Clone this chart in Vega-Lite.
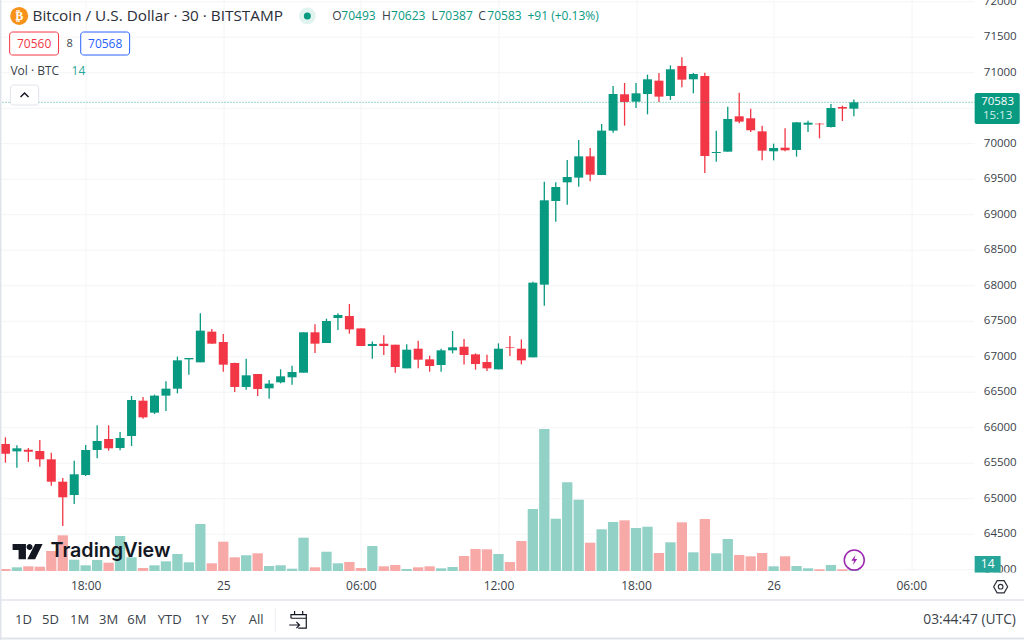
{
  "$schema": "https://vega.github.io/schema/vega-lite/v6.json",
  "width": 984,
  "height": 571,
  "autosize": {"type": "none"},
  "padding": {"left": -5.5, "top": 0, "right": 45.5, "bottom": 69},
  "background": "#ffffff",
  "config": {
    "view": {"stroke": null},
    "font": "Open Sans",
    "axis": {"labelOverlap": false, "labelBound": false},
    "text": {"font": "Open Sans", "fontSize": 12, "align": "left", "baseline": "middle", "color": "#3a3f4a"}
  },
  "datasets": {
    "one": [{"k": 1}],
    "levels": [
      {"level":64000},{"level":64500},{"level":65000},{"level":65500},{"level":66000},{"level":66500},
      {"level":67000},{"level":67500},{"level":68000},{"level":68500},{"level":69000},{"level":69500},
      {"level":70000},{"level":70500},{"level":71000},{"level":71500},{"level":72000}
    ],
    "candles": [
      {"t":"2024-03-24T14:30:00Z","open":65771,"high":65865,"low":65508,"close":65635,"vol":20},
      {"t":"2024-03-24T15:00:00Z","open":65667,"high":65752,"low":65437,"close":65710,"vol":37},
      {"t":"2024-03-24T15:30:00Z","open":65691,"high":65714,"low":65517,"close":65663,"vol":47},
      {"t":"2024-03-24T16:00:00Z","open":65672,"high":65827,"low":65451,"close":65555,"vol":43},
      {"t":"2024-03-24T16:30:00Z","open":65555,"high":65649,"low":65184,"close":65240,"vol":200},
      {"t":"2024-03-24T17:00:00Z","open":65240,"high":65292,"low":64616,"close":65020,"vol":357},
      {"t":"2024-03-24T17:30:00Z","open":65052,"high":65536,"low":64926,"close":65344,"vol":113},
      {"t":"2024-03-24T18:00:00Z","open":65334,"high":65757,"low":65320,"close":65686,"vol":57},
      {"t":"2024-03-24T18:30:00Z","open":65686,"high":66034,"low":65569,"close":65813,"vol":110},
      {"t":"2024-03-24T19:00:00Z","open":65841,"high":66034,"low":65677,"close":65710,"vol":83},
      {"t":"2024-03-24T19:30:00Z","open":65714,"high":65940,"low":65682,"close":65855,"vol":350},
      {"t":"2024-03-24T20:00:00Z","open":65883,"high":66447,"low":65743,"close":66390,"vol":137},
      {"t":"2024-03-24T20:30:00Z","open":66381,"high":66433,"low":66128,"close":66146,"vol":30},
      {"t":"2024-03-24T21:00:00Z","open":66212,"high":66466,"low":66193,"close":66452,"vol":57},
      {"t":"2024-03-24T21:30:00Z","open":66452,"high":66653,"low":66236,"close":66550,"vol":97},
      {"t":"2024-03-24T22:00:00Z","open":66550,"high":67001,"low":66484,"close":66949,"vol":170},
      {"t":"2024-03-24T22:30:00Z","open":66963,"high":66982,"low":66747,"close":66982,"vol":87},
      {"t":"2024-03-24T23:00:00Z","open":66921,"high":67611,"low":66921,"close":67367,"vol":470},
      {"t":"2024-03-24T23:30:00Z","open":67353,"high":67391,"low":67184,"close":67184,"vol":77},
      {"t":"2024-03-25T00:00:00Z","open":67207,"high":67320,"low":66790,"close":66888,"vol":293},
      {"t":"2024-03-25T00:30:00Z","open":66912,"high":66916,"low":66503,"close":66574,"vol":137},
      {"t":"2024-03-25T01:00:00Z","open":66574,"high":66973,"low":66536,"close":66738,"vol":157},
      {"t":"2024-03-25T01:30:00Z","open":66757,"high":66757,"low":66447,"close":66545,"vol":177},
      {"t":"2024-03-25T02:00:00Z","open":66555,"high":66672,"low":66409,"close":66621,"vol":50},
      {"t":"2024-03-25T02:30:00Z","open":66639,"high":66822,"low":66625,"close":66724,"vol":57},
      {"t":"2024-03-25T03:00:00Z","open":66710,"high":66874,"low":66606,"close":66785,"vol":23},
      {"t":"2024-03-25T03:30:00Z","open":66775,"high":67344,"low":66775,"close":67344,"vol":333},
      {"t":"2024-03-25T04:00:00Z","open":67344,"high":67456,"low":67053,"close":67184,"vol":37},
      {"t":"2024-03-25T04:30:00Z","open":67193,"high":67536,"low":67193,"close":67503,"vol":193},
      {"t":"2024-03-25T05:00:00Z","open":67545,"high":67611,"low":67376,"close":67588,"vol":77},
      {"t":"2024-03-25T05:30:00Z","open":67573,"high":67742,"low":67324,"close":67385,"vol":90},
      {"t":"2024-03-25T06:00:00Z","open":67399,"high":67399,"low":67151,"close":67151,"vol":30},
      {"t":"2024-03-25T06:30:00Z","open":67151,"high":67216,"low":66972,"close":67179,"vol":250},
      {"t":"2024-03-25T07:00:00Z","open":67183,"high":67301,"low":67024,"close":67151,"vol":47},
      {"t":"2024-03-25T07:30:00Z","open":67169,"high":67169,"low":66775,"close":66855,"vol":60},
      {"t":"2024-03-25T08:00:00Z","open":66836,"high":67174,"low":66836,"close":67099,"vol":20},
      {"t":"2024-03-25T08:30:00Z","open":67113,"high":67226,"low":66836,"close":66958,"vol":37},
      {"t":"2024-03-25T09:00:00Z","open":66963,"high":67014,"low":66789,"close":66869,"vol":47},
      {"t":"2024-03-25T09:30:00Z","open":66883,"high":67113,"low":66789,"close":67090,"vol":27},
      {"t":"2024-03-25T10:00:00Z","open":67090,"high":67362,"low":67047,"close":67132,"vol":40},
      {"t":"2024-03-25T10:30:00Z","open":67141,"high":67249,"low":66892,"close":67024,"vol":150},
      {"t":"2024-03-25T11:00:00Z","open":67033,"high":67047,"low":66817,"close":66897,"vol":220},
      {"t":"2024-03-25T11:30:00Z","open":66925,"high":67028,"low":66798,"close":66836,"vol":217},
      {"t":"2024-03-25T12:00:00Z","open":66822,"high":67188,"low":66822,"close":67113,"vol":170},
      {"t":"2024-03-25T12:30:00Z","open":67136,"high":67291,"low":67010,"close":67127,"vol":90},
      {"t":"2024-03-25T13:00:00Z","open":67113,"high":67244,"low":66892,"close":66949,"vol":300},
      {"t":"2024-03-25T13:30:00Z","open":66991,"high":68057,"low":66991,"close":68043,"vol":620},
      {"t":"2024-03-25T14:00:00Z","open":68015,"high":69465,"low":67719,"close":69203,"vol":1420},
      {"t":"2024-03-25T14:30:00Z","open":69193,"high":69456,"low":68902,"close":69390,"vol":523},
      {"t":"2024-03-25T15:00:00Z","open":69456,"high":69771,"low":69142,"close":69531,"vol":887},
      {"t":"2024-03-25T15:30:00Z","open":69522,"high":70052,"low":69395,"close":69822,"vol":713},
      {"t":"2024-03-25T16:00:00Z","open":69822,"high":69940,"low":69470,"close":69564,"vol":283},
      {"t":"2024-03-25T16:30:00Z","open":69559,"high":70278,"low":69559,"close":70184,"vol":417},
      {"t":"2024-03-25T17:00:00Z","open":70184,"high":70813,"low":70156,"close":70700,"vol":490},
      {"t":"2024-03-25T17:30:00Z","open":70696,"high":70855,"low":70254,"close":70588,"vol":507},
      {"t":"2024-03-25T18:00:00Z","open":70592,"high":70855,"low":70503,"close":70710,"vol":430},
      {"t":"2024-03-25T18:30:00Z","open":70700,"high":70973,"low":70414,"close":70907,"vol":443},
      {"t":"2024-03-25T19:00:00Z","open":70888,"high":70996,"low":70588,"close":70663,"vol":180},
      {"t":"2024-03-25T19:30:00Z","open":70672,"high":71104,"low":70616,"close":71048,"vol":287},
      {"t":"2024-03-25T20:00:00Z","open":71095,"high":71217,"low":70794,"close":70902,"vol":487},
      {"t":"2024-03-25T20:30:00Z","open":70907,"high":70996,"low":70710,"close":70982,"vol":187},
      {"t":"2024-03-25T21:00:00Z","open":70954,"high":71001,"low":69588,"close":69827,"vol":520},
      {"t":"2024-03-25T21:30:00Z","open":69869,"high":70184,"low":69747,"close":69883,"vol":177},
      {"t":"2024-03-25T22:00:00Z","open":69888,"high":70522,"low":69888,"close":70348,"vol":320},
      {"t":"2024-03-25T22:30:00Z","open":70386,"high":70719,"low":70287,"close":70311,"vol":160},
      {"t":"2024-03-25T23:00:00Z","open":70358,"high":70494,"low":70165,"close":70189,"vol":147},
      {"t":"2024-03-25T23:30:00Z","open":70174,"high":70254,"low":69766,"close":69902,"vol":180},
      {"t":"2024-03-26T00:00:00Z","open":69893,"high":70001,"low":69766,"close":69940,"vol":47},
      {"t":"2024-03-26T00:30:00Z","open":69944,"high":70217,"low":69893,"close":69907,"vol":147},
      {"t":"2024-03-26T01:00:00Z","open":69912,"high":70306,"low":69818,"close":70301,"vol":50},
      {"t":"2024-03-26T01:30:00Z","open":70268,"high":70325,"low":70165,"close":70296,"vol":27},
      {"t":"2024-03-26T02:00:00Z","open":70282,"high":70292,"low":70076,"close":70273,"vol":17},
      {"t":"2024-03-26T02:30:00Z","open":70235,"high":70559,"low":70230,"close":70503,"vol":60},
      {"t":"2024-03-26T03:00:00Z","open":70517,"high":70536,"low":70320,"close":70494,"vol":17},
      {"t":"2024-03-26T03:30:00Z","open":70493,"high":70623,"low":70387,"close":70583,"vol":14}
    ]
  },
  "data": {"name": "candles"},
  "layer": [
    {
      "data": {"name": "levels"},
      "layer": [
        {
          "mark": {"type": "rule", "color": "#f3f4f6", "strokeWidth": 1},
          "encoding": {
            "x": {"datum": {"year":2024,"month":3,"date":24,"hours":14,"minutes":14,"utc":true}, "type": "temporal"},
            "x2": {"datum": {"year":2024,"month":3,"date":26,"hours":8,"minutes":46,"utc":true}},
            "y": {"field": "level", "type": "quantitative", "title": null, "axis": null, "scale": {"domain": [63982, 72024], "nice": false, "zero": false}}
          }
        },
        {
          "mark": {"type": "text", "fontSize": 11.5},
          "encoding": {
            "x": {"datum": {"year":2024,"month":3,"date":26,"hours":9,"minutes":10,"utc":true}, "type": "temporal"},
            "y": {"field": "level", "type": "quantitative", "title": null, "axis": null},
            "text": {"field": "level", "type": "quantitative", "format": "d"}
          }
        }
      ]
    },
    {
      "mark": {"type": "bar", "width": 10.3},
      "encoding": {
        "x": {
          "field": "t",
          "type": "temporal",
          "title": null,
          "scale": {"type": "utc", "nice": false, "domain": [{"year":2024,"month":3,"date":24,"hours":14,"minutes":14,"seconds":30,"utc":true}, {"year":2024,"month":3,"date":26,"hours":8,"minutes":43,"utc":true}]},
          "axis": {
            "values": [
              {"year": 2024, "month": 3, "date": 24, "hours": 18, "utc": true},
              {"year": 2024, "month": 3, "date": 25, "hours": 0, "utc": true},
              {"year": 2024, "month": 3, "date": 25, "hours": 6, "utc": true},
              {"year": 2024, "month": 3, "date": 25, "hours": 12, "utc": true},
              {"year": 2024, "month": 3, "date": 25, "hours": 18, "utc": true},
              {"year": 2024, "month": 3, "date": 26, "hours": 0, "utc": true},
              {"year": 2024, "month": 3, "date": 26, "hours": 6, "utc": true}
            ],
            "labelExpr": "utchours(datum.value) == 0 ? utcFormat(datum.value, '%-d') : utcFormat(datum.value, '%H:%M')",
            "labelFontWeight": {"condition": {"test": "datum.label == '25'", "value": "bold"}, "value": "normal"},
            "labelFont": "Open Sans",
            "labelFontSize": 12,
            "labelColor": "#3a3f4a",
            "labelPadding": 9,
            "labelAngle": 0,
            "ticks": false,
            "domain": false,
            "grid": true,
            "gridColor": "#f3f4f6",
            "gridWidth": 1
          }
        },
        "y": {
          "field": "vol",
          "type": "quantitative",
          "title": null,
          "axis": null,
          "scale": {"domain": [0, 5710], "nice": false}
        },
        "color": {
          "condition": {"test": "datum.close >= datum.open", "value": "#91d1c6"},
          "value": "#f7a9a7"
        }
      }
    },
    {
      "layer": [
        {
          "mark": {"type": "rule", "strokeWidth": 1.3},
          "encoding": {
            "x": {"field": "t", "type": "temporal"},
            "y": {
              "field": "high",
              "type": "quantitative",
              "title": null,
              "axis": null,
              "scale": {"domain": [63982, 72024], "nice": false, "zero": false}
            },
            "y2": {"field": "low"},
            "color": {
              "condition": {"test": "datum.close >= datum.open", "value": "#089981"},
              "value": "#f23645"
            }
          }
        },
        {
          "mark": {"type": "bar", "width": 9},
          "encoding": {
            "x": {"field": "t", "type": "temporal"},
            "y": {"field": "open", "type": "quantitative", "axis": null},
            "y2": {"field": "close"},
            "color": {
              "condition": {"test": "datum.close >= datum.open", "value": "#089981"},
              "value": "#f23645"
            }
          }
        },
        {
          "data": {"name": "one"},
          "mark": {"type": "rule", "color": "#089981", "strokeDash": [1, 2], "strokeWidth": 1, "opacity": 0.8},
          "encoding": {"y": {"datum": 70583, "axis": null}}
        },
        {
          "data": {"name": "one"},
          "mark": {"type": "rule", "color": "#e0e3eb", "strokeWidth": 2},
          "encoding": {
            "x": {"datum": {"year":2024,"month":3,"date":24,"hours":14,"minutes":17,"utc":true}, "type": "temporal"},
            "y": {"datum": 72024, "axis": null},
            "y2": {"datum": 63010}
          }
        },
        {
          "data": {"name": "one"},
          "mark": {"type": "rect", "color": "#ffffff"},
          "encoding": {
            "x": {"datum": {"year":2024,"month":3,"date":26,"hours":8,"minutes":46,"utc":true}, "type": "temporal"},
            "x2": {"datum": {"year":2024,"month":3,"date":26,"hours":11,"minutes":0,"utc":true}},
            "y": {"datum": 63960, "axis": null},
            "y2": {"datum": 63587}
          }
        },
        {
          "data": {"name": "one"},
          "mark": {"type": "rule", "color": "#e0e3eb", "strokeWidth": 1.5},
          "encoding": {
            "x": {"datum": {"year":2024,"month":3,"date":24,"hours":14,"minutes":14,"utc":true}, "type": "temporal"},
            "x2": {"datum": {"year":2024,"month":3,"date":26,"hours":11,"minutes":0,"utc":true}},
            "y": {"datum": 63573, "axis": null}
          }
        },
        {
          "data": {"name": "one"},
          "mark": {"type": "rule", "color": "#e0e3eb", "strokeWidth": 2},
          "encoding": {
            "x": {"datum": {"year":2024,"month":3,"date":24,"hours":14,"minutes":14,"utc":true}, "type": "temporal"},
            "x2": {"datum": {"year":2024,"month":3,"date":26,"hours":11,"minutes":0,"utc":true}},
            "y": {"datum": 63031, "axis": null}
          }
        },
        {
          "data": {"name": "one"},
          "mark": {"type": "rule", "color": "#eceef2", "strokeWidth": 1},
          "encoding": {
            "x": {"datum": {"year":2024,"month":3,"date":25,"hours":2,"minutes":16,"utc":true}, "type": "temporal"},
            "y": {"datum": 63460, "axis": null},
            "y2": {"datum": 63122}
          }
        },
        {
          "data": {"name": "one"},
          "mark": {"type": "point", "filled": true, "opacity": 1, "color": "#f7931a", "size": 324, "shape": "circle"},
          "encoding": {"x": {"datum": {"year":2024,"month":3,"date":24,"hours":15,"minutes":6,"utc":true}, "type": "temporal"}, "y": {"datum": 71799, "axis": null}}
        },
        {
          "data": {"values": [{"label": "₿"}]},
          "mark": {"type": "text", "color": "#ffffff", "font": "DejaVu Sans", "fontWeight": "bold", "fontSize": 12, "align": "center"},
          "encoding": {"x": {"datum": {"year":2024,"month":3,"date":24,"hours":15,"minutes":6,"utc":true}, "type": "temporal"}, "y": {"datum": 71799, "axis": null}, "text": {"field": "label"}}
        },
        {
          "data": {"values": [{"label": "Bitcoin / U.S. Dollar · 30 · BITSTAMP"}]},
          "mark": {"type": "text", "fontSize": 15.3, "color": "#2a2e39"},
          "encoding": {"x": {"datum": {"year":2024,"month":3,"date":24,"hours":15,"minutes":41,"utc":true}, "type": "temporal"}, "y": {"datum": 71799, "axis": null}, "text": {"field": "label"}}
        },
        {
          "data": {"name": "one"},
          "mark": {"type": "point", "filled": true, "opacity": 1, "color": "#e0f3ef", "size": 280, "shape": "circle"},
          "encoding": {"x": {"datum": {"year":2024,"month":3,"date":25,"hours":3,"minutes":40,"utc":true}, "type": "temporal"}, "y": {"datum": 71799, "axis": null}}
        },
        {
          "data": {"name": "one"},
          "mark": {"type": "point", "filled": true, "opacity": 1, "color": "#089981", "size": 49, "shape": "circle"},
          "encoding": {"x": {"datum": {"year":2024,"month":3,"date":25,"hours":3,"minutes":40,"utc":true}, "type": "temporal"}, "y": {"datum": 71799, "axis": null}}
        },
        {
          "data": {"values": [{"label": "O"}]},
          "mark": {"type": "text"},
          "encoding": {"x": {"datum": {"year":2024,"month":3,"date":25,"hours":4,"minutes":45,"utc":true}, "type": "temporal"}, "y": {"datum": 71799, "axis": null}, "text": {"field": "label"}}
        },
        {
          "data": {"values": [{"label": "70493"}]},
          "mark": {"type": "text", "color": "#089981"},
          "encoding": {"x": {"datum": {"year":2024,"month":3,"date":25,"hours":5,"minutes":9,"utc":true}, "type": "temporal"}, "y": {"datum": 71799, "axis": null}, "text": {"field": "label"}}
        },
        {
          "data": {"values": [{"label": "H"}]},
          "mark": {"type": "text"},
          "encoding": {"x": {"datum": {"year":2024,"month":3,"date":25,"hours":6,"minutes":55,"utc":true}, "type": "temporal"}, "y": {"datum": 71799, "axis": null}, "text": {"field": "label"}}
        },
        {
          "data": {"values": [{"label": "70623"}]},
          "mark": {"type": "text", "color": "#089981"},
          "encoding": {"x": {"datum": {"year":2024,"month":3,"date":25,"hours":7,"minutes":19,"utc":true}, "type": "temporal"}, "y": {"datum": 71799, "axis": null}, "text": {"field": "label"}}
        },
        {
          "data": {"values": [{"label": "L"}]},
          "mark": {"type": "text"},
          "encoding": {"x": {"datum": {"year":2024,"month":3,"date":25,"hours":9,"minutes":5,"utc":true}, "type": "temporal"}, "y": {"datum": 71799, "axis": null}, "text": {"field": "label"}}
        },
        {
          "data": {"values": [{"label": "70387"}]},
          "mark": {"type": "text", "color": "#089981"},
          "encoding": {"x": {"datum": {"year":2024,"month":3,"date":25,"hours":9,"minutes":23,"utc":true}, "type": "temporal"}, "y": {"datum": 71799, "axis": null}, "text": {"field": "label"}}
        },
        {
          "data": {"values": [{"label": "C"}]},
          "mark": {"type": "text"},
          "encoding": {"x": {"datum": {"year":2024,"month":3,"date":25,"hours":11,"minutes":7,"utc":true}, "type": "temporal"}, "y": {"datum": 71799, "axis": null}, "text": {"field": "label"}}
        },
        {
          "data": {"values": [{"label": "70583"}]},
          "mark": {"type": "text", "color": "#089981"},
          "encoding": {"x": {"datum": {"year":2024,"month":3,"date":25,"hours":11,"minutes":31,"utc":true}, "type": "temporal"}, "y": {"datum": 71799, "axis": null}, "text": {"field": "label"}}
        },
        {
          "data": {"values": [{"label": "+91 (+0.13%)"}]},
          "mark": {"type": "text", "color": "#089981"},
          "encoding": {"x": {"datum": {"year":2024,"month":3,"date":25,"hours":13,"minutes":16,"utc":true}, "type": "temporal"}, "y": {"datum": 71799, "axis": null}, "text": {"field": "label"}}
        },
        {
          "data": {"name": "one"},
          "mark": {"type": "rect", "fill": "#ffffff", "stroke": "#f23645", "strokeWidth": 1, "cornerRadius": 3},
          "encoding": {
            "x": {"datum": {"year":2024,"month":3,"date":24,"hours":14,"minutes":41,"utc":true}, "type": "temporal"},
            "x2": {"datum": {"year":2024,"month":3,"date":24,"hours":16,"minutes":49,"utc":true}},
            "y": {"datum": 71573, "axis": null},
            "y2": {"datum": 71249}
          }
        },
        {
          "data": {"values": [{"label": "70560"}]},
          "mark": {"type": "text", "color": "#f23645", "align": "center"},
          "encoding": {"x": {"datum": {"year":2024,"month":3,"date":24,"hours":15,"minutes":45,"utc":true}, "type": "temporal"}, "y": {"datum": 71404, "axis": null}, "text": {"field": "label"}}
        },
        {
          "data": {"values": [{"label": "8"}]},
          "mark": {"type": "text", "fontSize": 11, "align": "center"},
          "encoding": {"x": {"datum": {"year":2024,"month":3,"date":24,"hours":17,"minutes":18,"utc":true}, "type": "temporal"}, "y": {"datum": 71404, "axis": null}, "text": {"field": "label"}}
        },
        {
          "data": {"name": "one"},
          "mark": {"type": "rect", "fill": "#ffffff", "stroke": "#2962ff", "strokeWidth": 1, "cornerRadius": 3},
          "encoding": {
            "x": {"datum": {"year":2024,"month":3,"date":24,"hours":17,"minutes":47,"utc":true}, "type": "temporal"},
            "x2": {"datum": {"year":2024,"month":3,"date":24,"hours":19,"minutes":55,"utc":true}},
            "y": {"datum": 71573, "axis": null},
            "y2": {"datum": 71249}
          }
        },
        {
          "data": {"values": [{"label": "70568"}]},
          "mark": {"type": "text", "color": "#2962ff", "align": "center"},
          "encoding": {"x": {"datum": {"year":2024,"month":3,"date":24,"hours":18,"minutes":51,"utc":true}, "type": "temporal"}, "y": {"datum": 71404, "axis": null}, "text": {"field": "label"}}
        },
        {
          "data": {"values": [{"label": "Vol · BTC"}]},
          "mark": {"type": "text", "fontSize": 12},
          "encoding": {"x": {"datum": {"year":2024,"month":3,"date":24,"hours":14,"minutes":43,"utc":true}, "type": "temporal"}, "y": {"datum": 71024, "axis": null}, "text": {"field": "label"}}
        },
        {
          "data": {"values": [{"label": "14"}]},
          "mark": {"type": "text", "fontSize": 12, "color": "#26a69a"},
          "encoding": {"x": {"datum": {"year":2024,"month":3,"date":24,"hours":17,"minutes":23,"utc":true}, "type": "temporal"}, "y": {"datum": 71024, "axis": null}, "text": {"field": "label"}}
        },
        {
          "data": {"name": "one"},
          "mark": {"type": "rect", "fill": "#ffffff", "stroke": "#e0e3eb", "strokeWidth": 1, "cornerRadius": 3},
          "encoding": {
            "x": {"datum": {"year":2024,"month":3,"date":24,"hours":14,"minutes":43,"utc":true}, "type": "temporal"},
            "x2": {"datum": {"year":2024,"month":3,"date":24,"hours":15,"minutes":57,"utc":true}},
            "y": {"datum": 70827, "axis": null},
            "y2": {"datum": 70545}
          }
        },
        {
          "data": {"name": "one"},
          "mark": {"type": "point", "shape": "M-1,.5 L0,-.5 L1,.5", "size": 64, "filled": false, "opacity": 1, "color": "#131722", "strokeWidth": 1.5},
          "encoding": {"x": {"datum": {"year":2024,"month":3,"date":24,"hours":15,"minutes":20,"utc":true}, "type": "temporal"}, "y": {"datum": 70686, "axis": null}}
        },
        {
          "data": {"name": "one"},
          "mark": {"type": "rect", "color": "#089981", "cornerRadius": 2},
          "encoding": {
            "x": {"datum": {"year":2024,"month":3,"date":26,"hours":8,"minutes":46,"utc":true}, "type": "temporal"},
            "x2": {"datum": {"year":2024,"month":3,"date":26,"hours":10,"minutes":44,"utc":true}},
            "y": {"datum": 70714, "axis": null},
            "y2": {"datum": 70277}
          }
        },
        {
          "data": {"values": [{"label": "70583"}]},
          "mark": {"type": "text", "color": "#ffffff", "fontSize": 11.5, "align": "center"},
          "encoding": {"x": {"datum": {"year":2024,"month":3,"date":26,"hours":9,"minutes":46,"utc":true}, "type": "temporal"}, "y": {"datum": 70587, "axis": null}, "text": {"field": "label"}}
        },
        {
          "data": {"values": [{"label": "15:13"}]},
          "mark": {"type": "text", "color": "#d5efe9", "fontSize": 11.5, "align": "center"},
          "encoding": {"x": {"datum": {"year":2024,"month":3,"date":26,"hours":9,"minutes":46,"utc":true}, "type": "temporal"}, "y": {"datum": 70390, "axis": null}, "text": {"field": "label"}}
        },
        {
          "data": {"name": "one"},
          "mark": {"type": "rect", "color": "#26a69a"},
          "encoding": {
            "x": {"datum": {"year":2024,"month":3,"date":26,"hours":8,"minutes":46,"utc":true}, "type": "temporal"},
            "x2": {"datum": {"year":2024,"month":3,"date":26,"hours":9,"minutes":54,"utc":true}},
            "y": {"datum": 64193, "axis": null},
            "y2": {"datum": 63960}
          }
        },
        {
          "data": {"values": [{"label": "14"}]},
          "mark": {"type": "text", "color": "#ffffff", "fontSize": 12, "align": "center"},
          "encoding": {"x": {"datum": {"year":2024,"month":3,"date":26,"hours":9,"minutes":20,"utc":true}, "type": "temporal"}, "y": {"datum": 64080, "axis": null}, "text": {"field": "label"}}
        },
        {
          "data": {"name": "one"},
          "mark": {"type": "point", "shape": "M-1,0 L-.5,-.87 L.5,-.87 L1,0 L.5,.87 L-.5,.87 Z M.33,0 A.33,.33 0 1,1 -.33,0 A.33,.33 0 1,1 .33,0 Z", "size": 196, "filled": false, "opacity": 1, "color": "#2a2e39", "strokeWidth": 1.2},
          "encoding": {"x": {"datum": {"year":2024,"month":3,"date":26,"hours":9,"minutes":54,"utc":true}, "type": "temporal"}, "y": {"datum": 63761, "axis": null}}
        },
        {
          "data": {"name": "one"},
          "mark": {"type": "point", "shape": "M-1,-.51 L-.11,-.51 L-.11,.51 L-.6,.51 L-.6,-.11 L-1,-.11 Z M-.07,-.31 A.2,.2 0 1,0 .33,-.31 A.2,.2 0 1,0 -.07,-.31 Z M.5,-.51 L1,-.51 L.5,.51 L-.02,.51 Z", "size": 900, "filled": true, "opacity": 1, "color": "#131722"},
          "encoding": {"x": {"datum": {"year":2024,"month":3,"date":24,"hours":15,"minutes":28,"utc":true}, "type": "temporal"}, "y": {"datum": 64256, "axis": null}}
        },
        {
          "data": {"values": [{"label": "TradingView"}]},
          "mark": {"type": "text", "font": "Inter", "fontWeight": 600, "fontSize": 19.7, "color": "#131722"},
          "encoding": {"x": {"datum": {"year":2024,"month":3,"date":24,"hours":16,"minutes":28,"utc":true}, "type": "temporal"}, "y": {"datum": 64263, "axis": null}, "text": {"field": "label"}}
        },
        {
          "data": {"name": "one"},
          "mark": {"type": "point", "shape": "circle", "size": 400, "filled": false, "opacity": 1, "color": "#9c27b0", "strokeWidth": 1.5},
          "encoding": {"x": {"datum": {"year":2024,"month":3,"date":26,"hours":3,"minutes":31,"utc":true}, "type": "temporal"}, "y": {"datum": 64136, "axis": null}}
        },
        {
          "data": {"name": "one"},
          "mark": {"type": "point", "shape": "M.25,-1 L-.6,.15 L-.05,.15 L-.25,1 L.6,-.2 L.05,-.2 Z", "size": 100, "filled": true, "opacity": 1, "color": "#9c27b0"},
          "encoding": {"x": {"datum": {"year":2024,"month":3,"date":26,"hours":3,"minutes":31,"utc":true}, "type": "temporal"}, "y": {"datum": 64136, "axis": null}}
        },
        {
          "data": {"name": "one"},
          "mark": {"type": "point", "shape": "M-.8,-.2 L-.8,-.6 L.9,-.6 L.9,.9 L0,.9 M-.8,-.2 L.9,-.2 M-.4,-1 L-.4,-.6 M.5,-1 L.5,-.6 M-1,.55 L.1,.55 M-.2,.2 L.15,.55 L-.2,.9", "size": 324, "filled": false, "opacity": 1, "color": "#131722", "strokeWidth": 1.2},
          "encoding": {"x": {"datum": {"year":2024,"month":3,"date":25,"hours":3,"minutes":16,"utc":true}, "type": "temporal"}, "y": {"datum": 63291, "axis": null}}
        },
        {
          "data": {"values": [{"label": "1D"}]},
          "mark": {"type": "text", "fontSize": 13, "align": "center"},
          "encoding": {"x": {"datum": {"year":2024,"month":3,"date":24,"hours":15,"minutes":17,"utc":true}, "type": "temporal"}, "y": {"datum": 63291, "axis": null}, "text": {"field": "label"}}
        },
        {
          "data": {"values": [{"label": "5D"}]},
          "mark": {"type": "text", "fontSize": 13, "align": "center"},
          "encoding": {"x": {"datum": {"year":2024,"month":3,"date":24,"hours":16,"minutes":28,"utc":true}, "type": "temporal"}, "y": {"datum": 63291, "axis": null}, "text": {"field": "label"}}
        },
        {
          "data": {"values": [{"label": "1M"}]},
          "mark": {"type": "text", "fontSize": 13, "align": "center"},
          "encoding": {"x": {"datum": {"year":2024,"month":3,"date":24,"hours":17,"minutes":44,"utc":true}, "type": "temporal"}, "y": {"datum": 63291, "axis": null}, "text": {"field": "label"}}
        },
        {
          "data": {"values": [{"label": "3M"}]},
          "mark": {"type": "text", "fontSize": 13, "align": "center"},
          "encoding": {"x": {"datum": {"year":2024,"month":3,"date":24,"hours":19,"minutes":0,"utc":true}, "type": "temporal"}, "y": {"datum": 63291, "axis": null}, "text": {"field": "label"}}
        },
        {
          "data": {"values": [{"label": "6M"}]},
          "mark": {"type": "text", "fontSize": 13, "align": "center"},
          "encoding": {"x": {"datum": {"year":2024,"month":3,"date":24,"hours":20,"minutes":14,"utc":true}, "type": "temporal"}, "y": {"datum": 63291, "axis": null}, "text": {"field": "label"}}
        },
        {
          "data": {"values": [{"label": "YTD"}]},
          "mark": {"type": "text", "fontSize": 13, "align": "center"},
          "encoding": {"x": {"datum": {"year":2024,"month":3,"date":24,"hours":21,"minutes":40,"utc":true}, "type": "temporal"}, "y": {"datum": 63291, "axis": null}, "text": {"field": "label"}}
        },
        {
          "data": {"values": [{"label": "1Y"}]},
          "mark": {"type": "text", "fontSize": 13, "align": "center"},
          "encoding": {"x": {"datum": {"year":2024,"month":3,"date":24,"hours":23,"minutes":3,"utc":true}, "type": "temporal"}, "y": {"datum": 63291, "axis": null}, "text": {"field": "label"}}
        },
        {
          "data": {"values": [{"label": "5Y"}]},
          "mark": {"type": "text", "fontSize": 13, "align": "center"},
          "encoding": {"x": {"datum": {"year":2024,"month":3,"date":25,"hours":0,"minutes":14,"utc":true}, "type": "temporal"}, "y": {"datum": 63291, "axis": null}, "text": {"field": "label"}}
        },
        {
          "data": {"values": [{"label": "All"}]},
          "mark": {"type": "text", "fontSize": 13, "align": "center"},
          "encoding": {"x": {"datum": {"year":2024,"month":3,"date":25,"hours":1,"minutes":26,"utc":true}, "type": "temporal"}, "y": {"datum": 63291, "axis": null}, "text": {"field": "label"}}
        },
        {
          "data": {"values": [{"label": "03:44:47 (UTC)"}]},
          "mark": {"type": "text", "fontSize": 13.8, "align": "right"},
          "encoding": {"x": {"datum": {"year":2024,"month":3,"date":26,"hours":10,"minutes":34,"utc":true}, "type": "temporal"}, "y": {"datum": 63291, "axis": null}, "text": {"field": "label"}}
        }
      ]
    }
  ],
  "resolve": {"scale": {"y": "independent"}}
}
